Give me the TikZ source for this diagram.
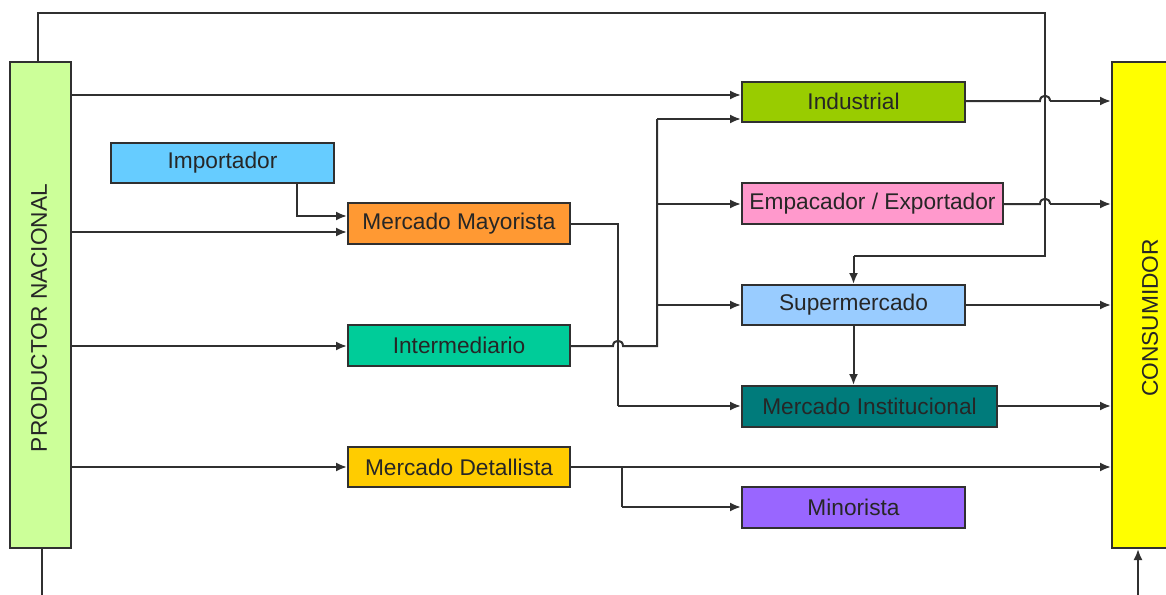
\documentclass[tikz,border=0pt]{standalone}
\usepackage{fontspec}
\setmainfont{Liberation Sans}
\usetikzlibrary{arrows.meta}
\definecolor{lnc}{HTML}{303030}
\definecolor{cprod}{HTML}{CCFF99}
\definecolor{ccons}{HTML}{FFFF00}
\definecolor{cimp}{HTML}{66CCFF}
\definecolor{cmay}{HTML}{FF9933}
\definecolor{cint}{HTML}{00CC99}
\definecolor{cdet}{HTML}{FFCC00}
\definecolor{cind}{HTML}{99CC00}
\definecolor{cemp}{HTML}{FF99CC}
\definecolor{csup}{HTML}{99CCFF}
\definecolor{cinst}{HTML}{007B7B}
\definecolor{cmin}{HTML}{9966FF}
\begin{document}
\begin{tikzpicture}[x=1pt,y=-1pt,
  agent/.style={draw=lnc, line width=2pt, inner sep=0pt, minimum height=40pt,
    text=black!85, font=\fontsize{22.7}{27}\selectfont},
  flow/.style={draw=lnc, line width=2pt, -{Latex[length=11pt,width=9pt]}},
  wire/.style={draw=lnc, line width=2pt}]
\useasboundingbox (0,0) rectangle (1166,594);

% end boxes
\node[agent, fill=cprod, minimum width=61pt, minimum height=486pt] (prod) at (40.5,305) {};
\node[rotate=90, font=\fontsize{22.7}{27}\selectfont, text=black!85] (prodlbl) at (39,318) {PRODUCTOR NACIONAL};
\node[agent, fill=ccons, minimum width=76pt, minimum height=486pt] (cons) at (1150,305) {};
\node[rotate=90, font=\fontsize{22.7}{27}\selectfont, text=black!85] (conslbl) at (1150,318) {CONSUMIDOR};

% intermediate agents
\node[agent, fill=cimp, minimum width=223pt] (imp) at (222.5,163) {Importador};
\node[agent, fill=cmay, minimum width=222pt, minimum height=41pt] (may) at (459,223.5) {Mercado Mayorista};
\node[agent, fill=cint, minimum width=222pt, minimum height=41pt] (inter) at (459,345.5) {Intermediario};
\node[agent, fill=cdet, minimum width=222pt] (det) at (459,467) {Mercado Detallista};
\node[agent, fill=cind, minimum width=223pt] (ind) at (853.5,101.5) {Industrial};
\node[agent, fill=cemp, minimum width=261pt, minimum height=41pt] (emp) at (872.5,203.5) {Empacador / Exportador};
\node[agent, fill=csup, minimum width=223pt] (sup) at (853.5,305) {Supermercado};
\node[agent, fill=cinst, minimum width=255pt, minimum height=41pt] (inst) at (869.5,406.5) {Mercado Institucional};
\node[agent, fill=cmin, minimum width=223pt, minimum height=41pt] (mino) at (853.5,507.5) {Minorista};

% junction points
\coordinate (jint) at (657,346);
\coordinate (jmay) at (618,224);
\coordinate (jdet) at (622,467);
\coordinate (jtop) at (1045,13);
\coordinate (jsup) at (1045,256);

% from the national producer
\draw[flow] (prod.east |- 0,95) -- (ind.west |- 0,95);
\draw[flow] (prod.east |- 0,232) -- (may.west |- 0,232);
\draw[flow] (prod.east |- 0,346) -- (inter.west |- 0,346);
\draw[flow] (prod.east |- 0,467) -- (det.west |- 0,467);
\draw[wire] (prod.north -| 38,0) -- (38,13) -- (jtop) -- (jsup) -- (sup.north |- jsup);
\draw[flow] (sup.north |- jsup) -- (sup.north);
\draw[wire] (prod.south -| 42,0) -- (42,600);

% importer to wholesale market
\draw[flow] (imp.south -| 297,0) -- (297,216) -- (may.west |- 0,216);

% wholesale market to institutional market
\draw[wire] (may.east |- jmay) -- (jmay) -- (618,406);
\draw[flow] (618,406) -- (inst.west |- 0,406);

% intermediary, hopping over the wholesale line
\draw[wire] (inter.east |- jint) -- (613,346) .. controls (613,339) and (623,339) .. (623,346) -- (jint) -- (657,119);
\draw[flow] (657,119) -- (ind.west |- 0,119);
\draw[flow] (657,204) -- (emp.west |- 0,204);
\draw[flow] (657,305) -- (sup.west);

% supermarket to institutional market
\draw[flow] (sup.south) -- (inst.north -| sup.south);

% retail market
\draw[flow] (det.east) -- (cons.west |- det.east);
\draw[wire] (jdet) -- (622,507);
\draw[flow] (622,507) -- (mino.west |- 0,507);

% to the consumer, hopping over the loop line
\draw[wire] (ind.east |- 0,101) -- (1040,101) .. controls (1040,94) and (1050,94) .. (1050,101);
\draw[flow] (1050,101) -- (cons.west |- 0,101);
\draw[wire] (emp.east |- 0,204) -- (1040,204) .. controls (1040,197) and (1050,197) .. (1050,204);
\draw[flow] (1050,204) -- (cons.west |- 0,204);
\draw[flow] (sup.east) -- (cons.west |- sup.east);
\draw[flow] (inst.east |- 0,406) -- (cons.west |- 0,406);
\draw[flow] (1138,600) -- (cons.south -| 1138,0);
\end{tikzpicture}
\end{document}
